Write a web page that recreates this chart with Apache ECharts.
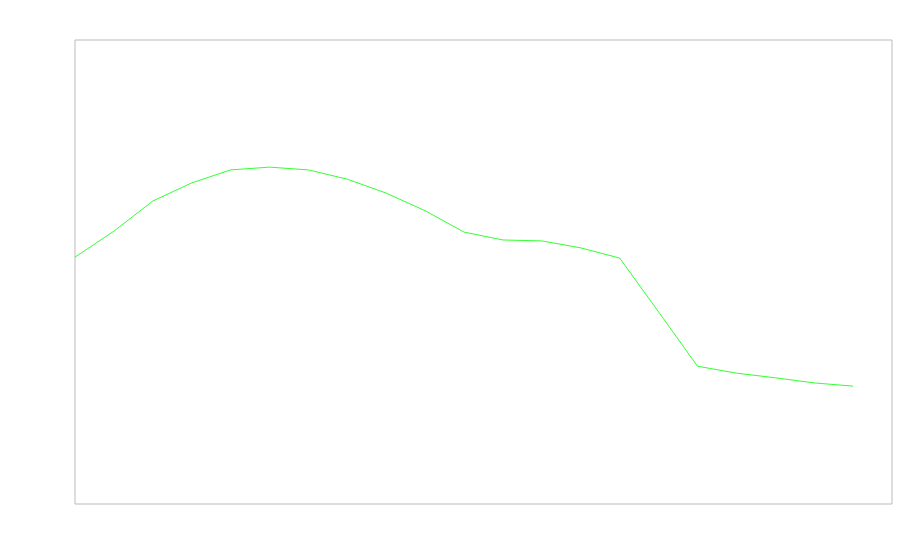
<!DOCTYPE html>
<html>
<head>
<meta charset="utf-8">
<script src="https://cdn.jsdelivr.net/npm/echarts@6/dist/echarts.min.js"></script>
<style>html,body{margin:0;padding:0;background:#fff;}#chart{width:900px;height:560px;}</style>
</head>
<body>
<div id="chart"></div>
<script>
var xIndex = [0,1,2,3,4,5,6,7,8,9,10,11,12,13,14,15,16,17,18,19,20];
var values = [53.2,58.8,65.3,69.2,72.0,72.6,72.0,70.0,67.0,63.2,58.6,56.9,56.7,55.2,53.0,41.4,29.7,28.2,27.2,26.1,25.4];
var xMin = 0, xMax = 21;
var yMin = 0, yMax = 100;

var chart = echarts.init(document.getElementById('chart'), null, {renderer: 'canvas'});
chart.setOption({
  animation: false,
  backgroundColor: '#ffffff',
  grid: {left: 75, top: 40, right: 8, bottom: 56, show: true, borderColor: '#bbbbbb', borderWidth: 1, backgroundColor: 'transparent'},
  xAxis: {type: 'value', min: xMin, max: xMax, show: false, splitLine: {show: false}},
  yAxis: {type: 'value', min: yMin, max: yMax, show: false, splitLine: {show: false}},
  series: [{
    type: 'line',
    data: xIndex.map(function (x, i) { return [x, values[i]]; }),
    showSymbol: false,
    symbol: 'none',
    lineStyle: {color: '#33ff33', width: 1},
    itemStyle: {color: '#33ff33'}
  }]
});
</script>
</body>
</html>
